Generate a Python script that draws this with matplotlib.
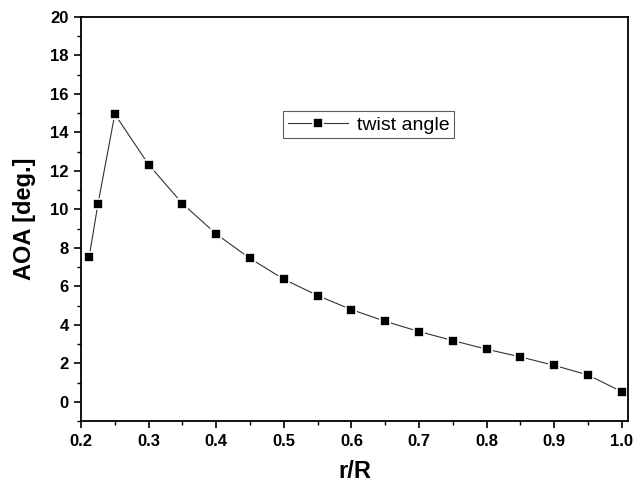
import matplotlib
matplotlib.use("Agg")
import matplotlib.pyplot as plt
from matplotlib.ticker import MultipleLocator

plt.rcParams["font.family"] = ["Liberation Sans", "DejaVu Sans"]

# twist angle distribution along the blade
r_R = [0.212, 0.225, 0.25, 0.30, 0.35, 0.40, 0.45, 0.50, 0.55, 0.60,
       0.65, 0.70, 0.75, 0.80, 0.85, 0.90, 0.95, 1.00]
aoa = [7.52, 10.26, 14.95, 12.33, 10.30, 8.72, 7.45, 6.37, 5.52, 4.79,
       4.18, 3.65, 3.18, 2.73, 2.33, 1.89, 1.39, 0.52]

fig = plt.figure(figsize=(6.41, 4.87), dpi=100)
ax = fig.add_axes([81 / 641, 1 - 421 / 487, 547 / 641, 404 / 487])

ax.plot(r_R, aoa, color="#333333", lw=0.8, marker="s", ms=7.5,
        mfc="black", mec="white", mew=1.2, label="twist angle")

ax.set_xlim(0.2, 1.009)
ax.set_ylim(-1, 20)
ax.xaxis.set_major_locator(MultipleLocator(0.1))
ax.xaxis.set_minor_locator(MultipleLocator(0.05))
ax.yaxis.set_major_locator(MultipleLocator(2))
ax.yaxis.set_minor_locator(MultipleLocator(1))
ax.set_xticks([0.2, 0.3, 0.4, 0.5, 0.6, 0.7, 0.8, 0.9, 1.0])
ax.set_xticklabels(["0.2", "0.3", "0.4", "0.5", "0.6", "0.7", "0.8", "0.9", "1.0"])
ax.tick_params(which="major", direction="out", length=5, width=1.2,
               labelsize=12, pad=4)
ax.tick_params(which="minor", direction="out", length=3, width=1.0)
for lab in ax.get_xticklabels() + ax.get_yticklabels():
    lab.set_fontweight("bold")
for s in ax.spines.values():
    s.set_linewidth(1.3)

ax.set_xlabel("r/R", fontsize=17, fontweight="bold", labelpad=8)
ax.set_ylabel("AOA [deg.]", fontsize=17, fontweight="bold", labelpad=10)

leg = ax.legend(loc="upper left", bbox_to_anchor=(0.369, 0.767), fontsize=14,
                frameon=True, fancybox=False, edgecolor="#333333",
                handlelength=3.1, borderpad=0.25, handletextpad=0.45,
                borderaxespad=0)
leg.get_frame().set_linewidth(0.8)

fig.savefig("out.png", dpi=100)
